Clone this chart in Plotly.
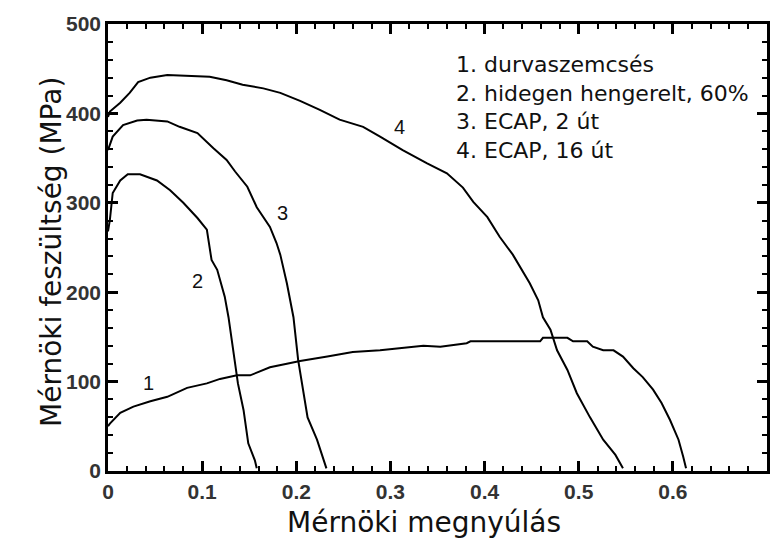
import plotly.graph_objects as go

# Engineering strain (x) and engineering stress in MPa (y) for each specimen
strain_1 = [0.0, 0.002, 0.013, 0.027, 0.045, 0.063, 0.084, 0.105, 0.119, 0.137, 0.151,
            0.172, 0.19, 0.204, 0.233, 0.26, 0.289, 0.31, 0.335, 0.353, 0.381, 0.385,
            0.459, 0.462, 0.488, 0.494, 0.509, 0.515, 0.526, 0.537, 0.547, 0.558,
            0.568, 0.579, 0.588, 0.597, 0.606, 0.611, 0.614]
stress_1 = [50, 53, 65, 72, 78, 83, 93, 98, 103, 107, 107,
            116, 120, 123, 128, 133, 135, 137, 140, 139, 143, 145,
            145, 149, 149, 145, 145, 139, 135, 135, 128, 115,
            105, 91, 76, 57, 35, 16, 3]

strain_2 = [0.0, 0.002, 0.005, 0.013, 0.021, 0.034, 0.052, 0.066, 0.08, 0.095, 0.105,
            0.108, 0.11, 0.116, 0.124, 0.128, 0.133, 0.138, 0.144, 0.149, 0.156, 0.158]
stress_2 = [268, 281, 311, 325, 332, 332, 325, 314, 300, 283, 270,
            251, 236, 225, 195, 172, 135, 98, 68, 31, 12, 3]

strain_3 = [0.0, 0.005, 0.016, 0.031, 0.041, 0.063, 0.076, 0.095, 0.112, 0.126, 0.135,
            0.148, 0.158, 0.172, 0.179, 0.183, 0.19, 0.197, 0.202, 0.207, 0.212,
            0.222, 0.23, 0.232]
stress_3 = [359, 374, 387, 392, 393, 391, 385, 378, 361, 348, 335,
            318, 295, 273, 255, 242, 210, 172, 124, 91, 60,
            35, 9, 3]

strain_4 = [0.0, 0.002, 0.013, 0.023, 0.032, 0.045, 0.063, 0.084, 0.108, 0.126, 0.143,
            0.165, 0.183, 0.204, 0.225, 0.246, 0.271, 0.289, 0.313, 0.339, 0.36,
            0.377, 0.388, 0.403, 0.416, 0.43, 0.438, 0.448, 0.457, 0.462, 0.47,
            0.477, 0.488, 0.498, 0.512, 0.526, 0.539, 0.547]
stress_4 = [396, 402, 412, 423, 435, 440, 443, 442, 441, 437, 432,
            428, 423, 414, 404, 393, 385, 374, 359, 344, 333,
            317, 301, 284, 262, 242, 228, 210, 191, 172, 158,
            135, 113, 87, 60, 35, 18, 3]

curve_numbers = ["1", "2", "3", "4"]
number_x = [0.043, 0.095, 0.185, 0.31]
number_y = [98, 212, 289, 385]

legend_lines = ["1. durvaszemcsés", "2. hidegen hengerelt, 60%", "3. ECAP, 2 út", "4. ECAP, 16 út"]

x_title = "Mérnöki megnyúlás"
y_title = "Mérnöki feszültség (MPa)"

x_range = [0, 0.7]
y_range = [0, 500]

fig = go.Figure()
for xs, ys in [(strain_1, stress_1), (strain_2, stress_2), (strain_3, stress_3), (strain_4, stress_4)]:
    fig.add_trace(go.Scatter(x=xs, y=ys, mode="lines",
                             line=dict(color="black", width=2), showlegend=False,
                             hoverinfo="skip"))

for lab, lx, ly in zip(curve_numbers, number_x, number_y):
    fig.add_annotation(x=lx, y=ly, text=lab, showarrow=False,
                       font=dict(family="Liberation Sans", size=20, color="#111"))

fig.add_annotation(x=0.368, y=471, xanchor="left", yanchor="top", align="left",
                   text="<br>".join(legend_lines), showarrow=False,
                   font=dict(family="DejaVu Sans", size=22, color="#111"))

# Axis titles
fig.add_annotation(xref="paper", yref="paper", x=0.48, y=-0.115, yanchor="middle",
                   text=x_title, showarrow=False,
                   font=dict(family="DejaVu Sans", size=28, color="#111"))
fig.add_annotation(xref="paper", yref="paper", x=-0.113, y=0.49, textangle=-90,
                   text=y_title, showarrow=False,
                   font=dict(family="DejaVu Sans", size=28, color="#111"))

axis_style = dict(
    showgrid=False, zeroline=False, showline=True, linecolor="#000000", linewidth=2.5,
    mirror="allticks", ticks="inside", ticklen=10, tickwidth=2.5, tickcolor="#000000",
    tickfont=dict(family="Liberation Sans", size=21, color="#333", weight="bold"),
)

fig.update_layout(
    template="simple_white",
    xaxis=dict(range=x_range, dtick=0.1,
               minor=dict(ticks="inside", dtick=0.02, ticklen=5, tickwidth=2, tickcolor="#000000"),
               **axis_style),
    yaxis=dict(range=y_range, dtick=100,
               minor=dict(ticks="inside", dtick=20, ticklen=5, tickwidth=2, tickcolor="#000000"),
               **axis_style),
    width=781, height=544, plot_bgcolor="white", paper_bgcolor="white",
    margin=dict(l=108, r=14, t=24, b=73),
)

fig.write_html("out.html")
